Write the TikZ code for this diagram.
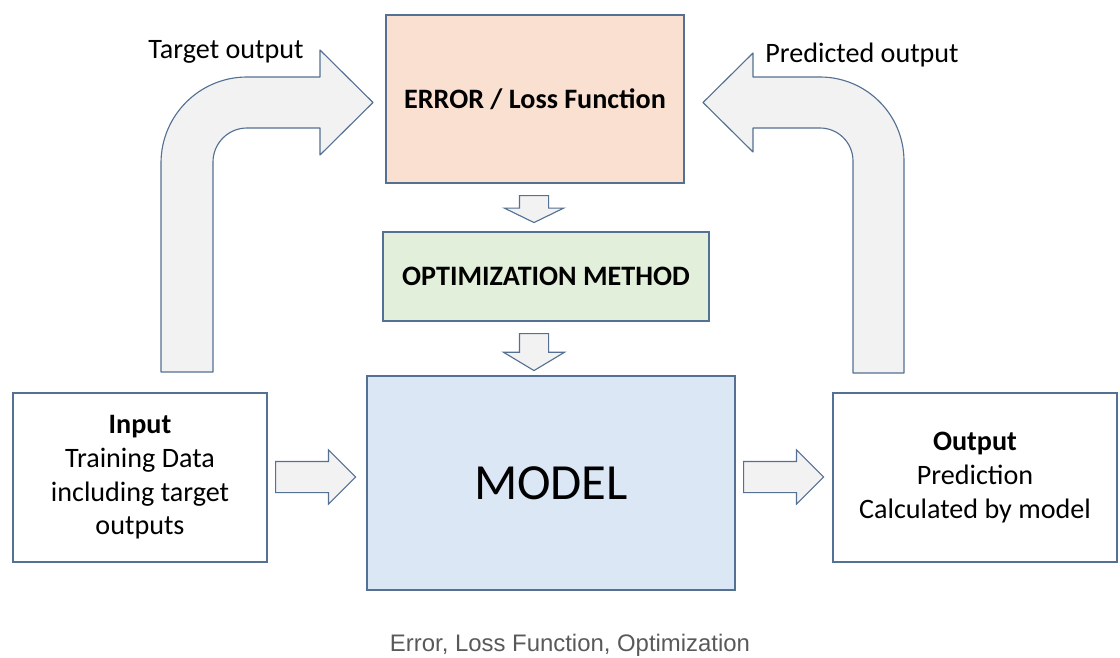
\documentclass[tikz,border=0pt]{standalone}
\usepackage{fontspec}
\setmainfont{Carlito}
\newfontfamily\capfont{Liberation Sans}
\usetikzlibrary{shapes.arrows,positioning}

\definecolor{edgeblue}{RGB}{84,112,146}
\definecolor{errfill}{RGB}{250,224,208}
\definecolor{optfill}{RGB}{226,239,218}
\definecolor{modelfill}{RGB}{219,231,245}
\definecolor{arrowfill}{RGB}{242,242,242}

\begin{document}
\begin{tikzpicture}[x=0.025cm, y=0.025cm,
        box/.style={rectangle, draw=edgeblue, line width=0.8pt, align=center, inner sep=0pt},
        blockarrow/.style={single arrow, draw=edgeblue, fill=arrowfill, line width=0.8pt,
          single arrow head indent=0pt, anchor=tail},
        bent/.style={draw=edgeblue, fill=arrowfill, line width=0.8pt, line join=round},
        every node/.style={font=\fontsize{20}{24}\selectfont}
        ]
      \useasboundingbox (0,0) rectangle (1120,-658);

      % boxes
      \node[box, fill=errfill, minimum width=7.45cm, minimum height=4.2cm] (err) at (535,-99) {\textbf{ERROR / Loss Function}};
      \node[box, fill=optfill, minimum width=8.15cm, minimum height=2.225cm] (opt) at (546,-276.5) {\textbf{OPTIMIZATION METHOD}};
      \node[box, fill=modelfill, minimum width=9.2cm, minimum height=5.35cm, font=\fontsize{36}{40}\selectfont] (model) at (551,-483) {MODEL};
      \node[box, fill=white, minimum width=6.35cm, minimum height=4.225cm] (in) at (140,-477.5) {\textbf{Input}\\Training Data\\including target\\outputs};
      \node[box, fill=white, minimum width=7.1cm, minimum height=4.225cm] (out) at (975,-477.5) {\textbf{Output}\\Prediction\\Calculated by model};

      % straight block arrows
      \node[blockarrow, inner xsep=0pt, inner ysep=0.375cm, minimum height=2cm, single arrow head extend=0.2875cm] (a1) at (275,-477) {};
      \node[blockarrow, inner xsep=0pt, inner ysep=0.375cm, minimum height=2cm, single arrow head extend=0.2875cm] (a2) at (743,-477) {};
      \node[blockarrow, shape border rotate=270, inner ysep=0pt, inner xsep=0.35cm, minimum height=0.675cm,
        single arrow head extend=0.375cm, single arrow tip angle=128] (d1) at (534,-195) {};
      \node[blockarrow, shape border rotate=270, inner ysep=0pt, inner xsep=0.35cm, minimum height=0.925cm,
        single arrow head extend=0.4cm, single arrow tip angle=118] (d2) at (534,-333) {};

      % bent arrows
      \draw[bent] (161,-372) -- (161,-163) arc[start angle=180, end angle=90, radius=86]
        -- (320,-77) -- (320,-50) -- (373,-102.5) -- (320,-155) -- (320,-128) -- (247,-128)
        arc[start angle=90, end angle=180, radius=34] -- (213,-372) -- cycle;
      \draw[bent] (904,-373) -- (904,-161) arc[start angle=0, end angle=90, radius=84]
        -- (753,-77) -- (753,-53) -- (703,-102.5) -- (753,-152) -- (753,-128) -- (820,-128)
        arc[start angle=90, end angle=0, radius=33] -- (853,-373) -- cycle;

      \node (tgt) at (226,-52) {Target output};
      \node (pred) at (862,-55) {Predicted output};

      \node[text=black!65, font=\capfont\fontsize{17}{20}\selectfont] (cap) at (570,-645) {Error, Loss Function, Optimization};

    \end{tikzpicture}
\end{document}
